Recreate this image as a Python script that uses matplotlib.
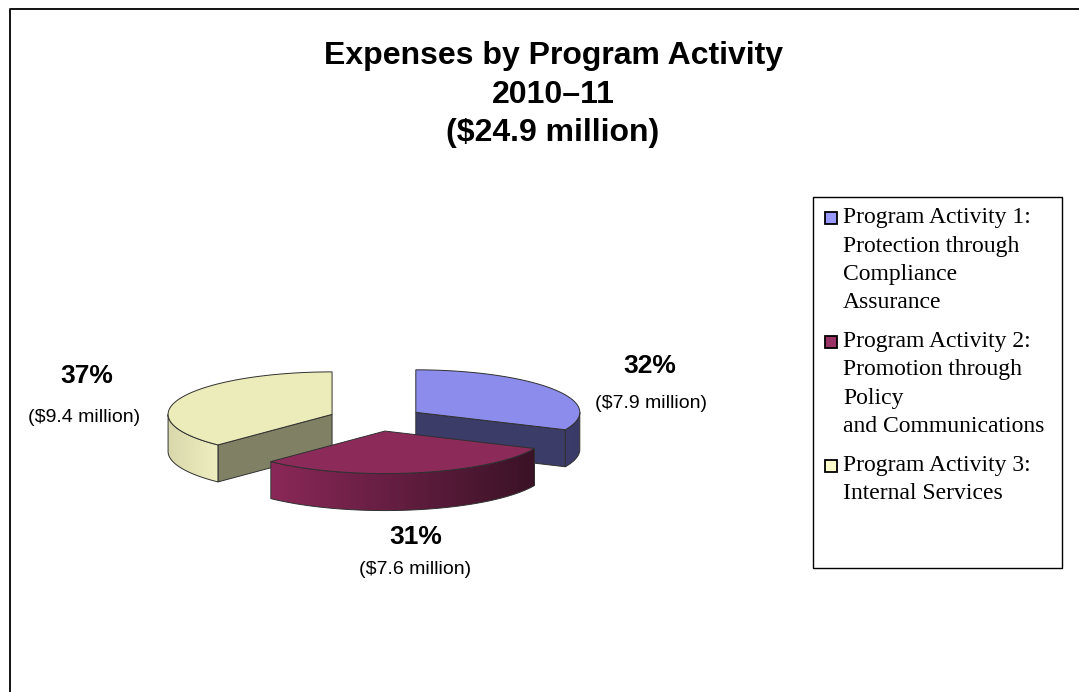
import numpy as np
import matplotlib.pyplot as plt
from matplotlib.patches import Polygon, Rectangle
from matplotlib.colors import to_rgb

# data
values = [7.9, 7.6, 9.4]
pct_labels = ['32%', '31%', '37%']
amount_labels = ['($7.9 million)', '($7.6 million)', '($9.4 million)']
legend_labels = [
    'Program Activity 1:\nProtection through\nCompliance\nAssurance',
    'Program Activity 2:\nPromotion through\nPolicy\nand Communications',
    'Program Activity 3:\nInternal Services',
]
title_lines = ['Expenses by Program Activity', '2010\u201311', '($24.9 million)']

# styles
legend_colors = ['#9999FF', '#993366', '#FFFFCC']
top_colors = ['#8C8CEC', '#8C2A5A', '#ECECBA']
cut_colors = ['#3C3C69', '#5A1C3C', '#808064']
rim_grad = [('#3C3C6C', '#3A3A66'), ('#8A2858', '#3A1226'), ('#D8D8AC', '#EEEEC0')]

# pie geometry (pixels)
CX, CY = 376, 419
A, B = 164, 42.5
DEPTH = 37
EXPLODE = 0.289

fig = plt.figure(figsize=(10.79, 6.92), dpi=100)
ax = fig.add_axes([0, 0, 1, 1])

total = sum(values)
bounds = np.concatenate([[0], np.cumsum(values)]) / total * 360.0


def arc(wx, wy, t1, t2, n=120):
    ts = np.radians(np.linspace(t1, t2, n))
    return wx + A * np.sin(ts), wy - B * np.cos(ts)


wedges = []
for i in range(len(values)):
    t1, t2 = bounds[i], bounds[i + 1]
    mid = np.radians((t1 + t2) / 2)
    wx = CX + A * EXPLODE * np.sin(mid)
    wy = CY - B * EXPLODE * np.cos(mid)
    wedges.append((wy, i, t1, t2, wx))

for wy, i, t1, t2, wx in sorted(wedges):
    ec = '#303030'
    # radial cut faces
    for t, nrm in ((t1, t1 - 90), (t2, t2 + 90)):
        if np.cos(np.radians(nrm)) < -1e-6:
            tx = wx + A * np.sin(np.radians(t))
            ty = wy - B * np.cos(np.radians(t))
            quad = [(wx, wy), (tx, ty), (tx, ty + DEPTH), (wx, wy + DEPTH)]
            ax.add_patch(Polygon(quad, closed=True, fc=cut_colors[i], ec=ec, lw=0.7, zorder=2))
    # outer rim (front half only)
    r1, r2 = max(t1, 90), min(t2, 270)
    if r2 > r1:
        xs, ys = arc(wx, wy, r1, r2)
        pts = list(zip(xs, ys)) + list(zip(xs[::-1], ys[::-1] + DEPTH))
        rim = Polygon(pts, closed=True, fc='none', ec=ec, lw=0.7, zorder=3)
        ax.add_patch(rim)
        c0, c1 = np.array(to_rgb(rim_grad[i][0])), np.array(to_rgb(rim_grad[i][1]))
        g = np.linspace(0, 1, 256)[None, :, None]
        img = c0 + (c1 - c0) * g
        img = np.repeat(img, 2, axis=0)
        im = ax.imshow(img, extent=(xs.min(), xs.max(), ys.max() + DEPTH, ys.min()),
                       aspect='auto', zorder=2.5, interpolation='bilinear')
        im.set_clip_path(rim)
    # top face
    xs, ys = arc(wx, wy, t1, t2)
    pts = [(wx, wy)] + list(zip(xs, ys))
    ax.add_patch(Polygon(pts, closed=True, fc=top_colors[i], ec=ec, lw=0.7, zorder=4))

# slice labels
pct_pos = [(650, 366), (416, 537), (87, 376)]
amt_pos = [(651, 404), (415, 570), (84, 417)]
for i in range(len(values)):
    ax.text(*pct_pos[i], pct_labels[i], ha='center', va='center', fontsize=19,
            fontweight='bold', family='Liberation Sans', zorder=5)
    ax.text(*amt_pos[i], amount_labels[i], ha='center', va='center', fontsize=14,
            family='Liberation Sans', zorder=5)

# title
for y, line in zip([56, 95, 133], title_lines):
    ax.text(553, y, line, ha='center', va='center', fontsize=23, fontweight='bold',
            family='Liberation Sans')

# legend box
ax.add_patch(Rectangle((813, 197), 249, 371, fc='white', ec='black', lw=1.0, zorder=5))
line_h = 28.2
y = 218
for i, lab in enumerate(legend_labels):
    ax.add_patch(Rectangle((825, y - 6), 12, 12, fc=legend_colors[i], ec='black', lw=1.3, zorder=6))
    for k, ln in enumerate(lab.split('\n')):
        ax.text(843, y + k * line_h, ln, ha='left', va='center', fontsize=17,
                family='Liberation Serif', zorder=6)
    y += len(lab.split('\n')) * line_h + 11

# outer frame (left and top only)
ax.plot([10, 10, 1079], [692, 8.5, 8.5], color='black', lw=1.3, zorder=7)

ax.set_xlim(0, 1079)
ax.set_ylim(692, 0)
ax.axis('off')

fig.savefig('out.png', dpi=100, facecolor='white')
